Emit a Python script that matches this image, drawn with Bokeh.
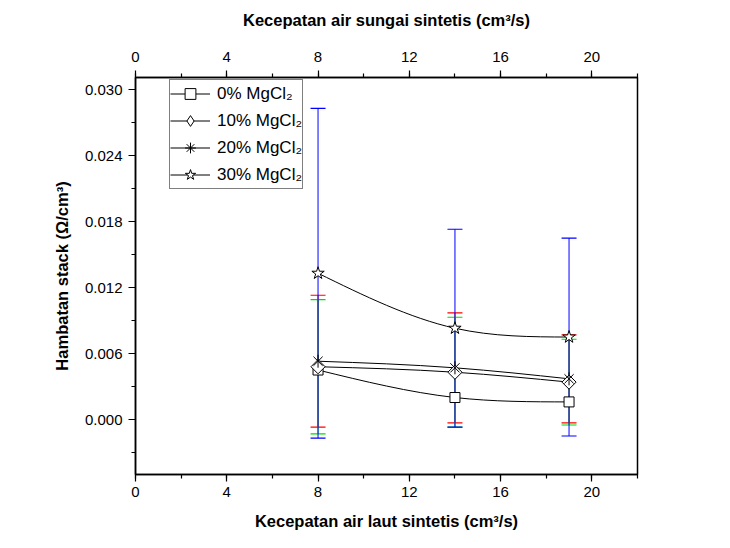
import math
from bokeh.plotting import figure
from bokeh.models import (Range1d, LinearAxis, SingleIntervalTicker, NumeralTickFormatter,
                          ColumnDataSource, Whisker, TeeHead, Legend, LegendItem)
from bokeh.embed import file_html
from bokeh.resources import INLINE

# ---------------- data ----------------
flow = [8, 14, 19]
labels = ["0% MgCl\u2082", "10% MgCl\u2082", "20% MgCl\u2082", "30% MgCl\u2082"]
r0 = [0.0045, 0.0020, 0.0016]
r10 = [0.0048, 0.0043, 0.0034]
r20 = [0.0053, 0.0047, 0.0037]
r30 = [0.0133, 0.0083, 0.0075]
e10 = [0.0061, 0.0050, 0.0039]
e20 = [0.0060, 0.0050, 0.0040]
e30 = [0.0150, 0.0090, 0.0090]
x_ticks_major = 4
y_ticks_major = 0.006

FONT = "Liberation Sans"
NAN = float("nan")

p = figure(width=714, height=532, output_backend="svg", toolbar_location=None,
           x_range=Range1d(0, 22), y_range=Range1d(-0.0050, 0.0311),
           min_border_left=135, min_border_right=77, min_border_top=77, min_border_bottom=57,
           x_axis_location=None, y_axis_location=None)
p.grid.visible = False
p.background_fill_color = "white"
p.border_fill_color = "white"
p.outline_line_color = "black"
p.outline_line_width = 1.5


def style_axis(ax):
    ax.axis_line_color = "black"
    ax.axis_line_width = 1.5
    ax.major_tick_out = 7
    ax.major_tick_in = 0
    ax.minor_tick_out = 4
    ax.minor_tick_in = 0
    ax.major_tick_line_width = 1.2
    ax.minor_tick_line_width = 1.2
    ax.major_label_text_font = FONT
    ax.major_label_text_font_size = "15px"
    ax.major_label_text_color = "black"
    ax.axis_label_text_font = FONT
    ax.axis_label_text_font_size = "16.5px"
    ax.axis_label_text_font_style = "bold"
    ax.axis_label_text_color = "black"
    ax.major_label_standoff = 5


xb = LinearAxis(ticker=SingleIntervalTicker(interval=x_ticks_major, num_minor_ticks=2),
                axis_label="Kecepatan air laut sintetis (cm\u00b3/s)")
style_axis(xb)
xb.axis_label_standoff = 12
p.add_layout(xb, "below")

xt = LinearAxis(ticker=SingleIntervalTicker(interval=x_ticks_major, num_minor_ticks=2),
                axis_label="Kecepatan air sungai sintetis (cm\u00b3/s)")
style_axis(xt)
xt.major_label_standoff = 9
xt.axis_label_standoff = 20
p.add_layout(xt, "above")

yl = LinearAxis(ticker=SingleIntervalTicker(interval=y_ticks_major, num_minor_ticks=2),
                axis_label="Hambatan stack (\u03a9/cm\u00b3)",
                formatter=NumeralTickFormatter(format="0.000"))
style_axis(yl)
yl.major_label_standoff = 6
yl.axis_label_standoff = 11
p.add_layout(yl, "left")


def spline_bezier(xs, ys):
    # natural cubic spline through the 3 points, expressed as bezier segments
    h0 = xs[1] - xs[0]
    h1 = xs[2] - xs[1]
    d0 = (ys[1] - ys[0]) / h0
    d1 = (ys[2] - ys[1]) / h1
    m1 = 6 * (d1 - d0) / (2 * (h0 + h1))
    s = [d0 - h0 * m1 / 6, d0 + h0 * m1 / 3, d1 + h1 * m1 / 6]
    x0, y0, x1, y1, cx0, cy0, cx1, cy1 = [], [], [], [], [], [], [], []
    for i, h in enumerate([h0, h1]):
        x0.append(xs[i]); y0.append(ys[i])
        x1.append(xs[i + 1]); y1.append(ys[i + 1])
        cx0.append(xs[i] + h / 3); cy0.append(ys[i] + s[i] * h / 3)
        cx1.append(xs[i + 1] - h / 3); cy1.append(ys[i + 1] - s[i + 1] * h / 3)
    return dict(x0=x0, y0=y0, x1=x1, y1=y1, cx0=cx0, cy0=cy0, cx1=cx1, cy1=cy1)


series = [r0, r10, r20, r30]

for ys in series:
    p.bezier(source=ColumnDataSource(spline_bezier(flow, ys)), x0="x0", y0="y0", x1="x1", y1="y1",
             cx0="cx0", cy0="cy0", cx1="cx1", cy1="cy1", line_color="black", line_width=1)

mk_kw = dict(fill_color="white", line_color="black", line_width=1)
p.scatter(flow, r0, marker="square", size=10, **mk_kw)
p.scatter(flow, r10, marker="square", size=10, angle=math.pi / 4, **mk_kw)
p.scatter(flow, r20, marker="x", size=13, **mk_kw)
p.scatter(flow, r20, marker="dash", size=13, angle=math.pi / 2, **mk_kw)
p.scatter(flow, r30, marker="star", size=13, **mk_kw)

for ys, es, col in [(r20, e20, "red"), (r10, e10, "#00dd00"), (r30, e30, "blue")]:
    src = ColumnDataSource(dict(x=flow, lo=[a - b for a, b in zip(ys, es)],
                                hi=[a + b for a, b in zip(ys, es)]))
    w = Whisker(source=src, base="x", lower="lo", upper="hi", line_color=col, line_width=1,
                upper_head=TeeHead(size=15, line_color=col, line_width=1.2),
                lower_head=TeeHead(size=15, line_color=col, line_width=1.2))
    p.add_layout(w)

# legend proxies (line + marker symbol)
legend_markers = ["square", "diamond", "asterisk", "star"]
items = []
for lab, mk in zip(labels, legend_markers):
    lp = p.line(x=[NAN], y=[NAN], line_color="black", line_width=1)
    mp = p.scatter(x=[NAN], y=[NAN], marker=mk, size=10, **mk_kw)
    items.append(LegendItem(label=lab, renderers=[lp, mp]))

leg = Legend(items=items, location=(34, 285), orientation="vertical",
             label_text_font=FONT, label_text_font_size="17px", label_text_color="black",
             glyph_width=40, glyph_height=27, label_height=27, spacing=0, padding=0,
             label_standoff=7, border_line_color="black", border_line_width=1,
             background_fill_color="white", background_fill_alpha=1, margin=0)
p.add_layout(leg, "center")

open("out.html", "w").write(file_html(p, INLINE))
